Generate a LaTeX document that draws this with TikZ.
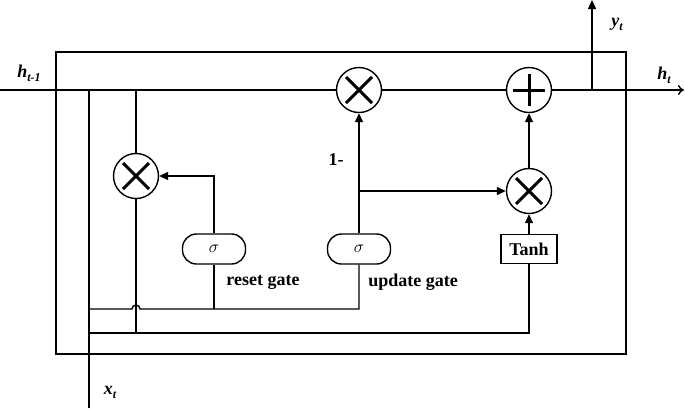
\documentclass[tikz,border=0pt]{standalone}
\usepackage{fontspec}
\setmainfont{Liberation Serif}
\usetikzlibrary{arrows.meta}
\begin{document}
\begin{tikzpicture}[x=1pt,y=-1pt,line width=1.4pt,
  op/.style={circle,draw,minimum size=45pt,inner sep=0pt},
  gatebox/.style={draw,rounded corners=14pt,minimum width=63pt,minimum height=30pt,inner sep=0pt,font=\fontsize{18}{18}\selectfont},
  tanhbox/.style={draw,minimum width=56pt,minimum height=29pt,inner sep=0pt,font=\fontsize{18}{18}\selectfont\bfseries},
  lbl/.style={font=\fontsize{18}{18}\selectfont\bfseries},
  vlbl/.style={font=\fontsize{18}{18}\selectfont\bfseries\itshape},
  arr/.style={-{Triangle[length=9pt,width=8pt]}},
  sym/.style={line width=3pt}]
\useasboundingbox (0,0) rectangle (685,408);
% outer cell box
\draw (56,52) rectangle (626,354);
% operators
\node[op] (mr) at (136,176) {};
\node[op] (mu) at (359,90) {};
\node[op] (pl) at (529,90) {};
\node[op] (mt) at (529,191) {};
\foreach \n in {mr,mu,mt}{
  \draw[sym] ([shift={(-13pt,-13pt)}]\n.center) -- ([shift={(13pt,13pt)}]\n.center);
  \draw[sym] ([shift={(-13pt,13pt)}]\n.center) -- ([shift={(13pt,-13pt)}]\n.center);
}
\draw[sym] ([xshift=-16pt]pl.center) -- ([xshift=16pt]pl.center);
\draw[sym] ([yshift=-16pt]pl.center) -- ([yshift=16pt]pl.center);
% gates
\node[gatebox] (sr) at (214,249) {$\sigma$};
\node[gatebox] (su) at (359,249) {$\sigma$};
\node[tanhbox] (th) at (529,249) {Tanh};
% coordinates
\coordinate (hin) at (0,90);
\coordinate (hout) at (684,90);
\coordinate (ysplit) at (592,90);
\coordinate (ytop) at (592,0);
\coordinate (xin) at (89,408);
\coordinate (xtop) at (89,90);
\coordinate (rtop) at (136,90);
\coordinate (rbot) at (136,333);
\coordinate (br) at (359,191);
% main h line
\draw (hin) -- (mu.west);
\draw (mu.east) -- (pl.west);
\draw[-{To[length=6pt,width=10pt]}] (pl.east) -- (hout);
\draw[arr] (ysplit) -- (ytop);
% x_t and h_{t-1} feeds
\draw (xin) -- (xtop);
\draw (rtop) -- (mr.north);
\draw (mr.south) -- (rbot);
\draw (89,333) -- (529,333) -- (th.south);
\draw (89,309) -- (132,309) arc[start angle=180,end angle=0,radius=4pt] -- (359,309) -- (su.south);
\draw (sr.south) -- (214,309);
% gate outputs
\draw[arr] (sr.north) |- (mr.east);
\draw[arr] (su.north) -- (mu.south);
\draw[arr] (br) -- (mt.west);
\draw[arr] (th.north) -- (mt.south);
\draw[arr] (mt.north) -- (pl.south);
% labels
\node[vlbl] at (29,73) {h\raisebox{-4pt}{\fontsize{12}{12}\selectfont t-1}};
\node[vlbl] at (664,75) {h\raisebox{-4pt}{\fontsize{12}{12}\selectfont t}};
\node[vlbl] at (617,24) {y\raisebox{-4pt}{\fontsize{12}{12}\selectfont t}};
\node[vlbl] at (110,392) {x\raisebox{-4pt}{\fontsize{12}{12}\selectfont t}};
\node[lbl] at (336,160) {1-};
\node[lbl] at (263,282) {reset gate};
\node[lbl] at (413,282) {update gate};
\end{tikzpicture}
\end{document}
